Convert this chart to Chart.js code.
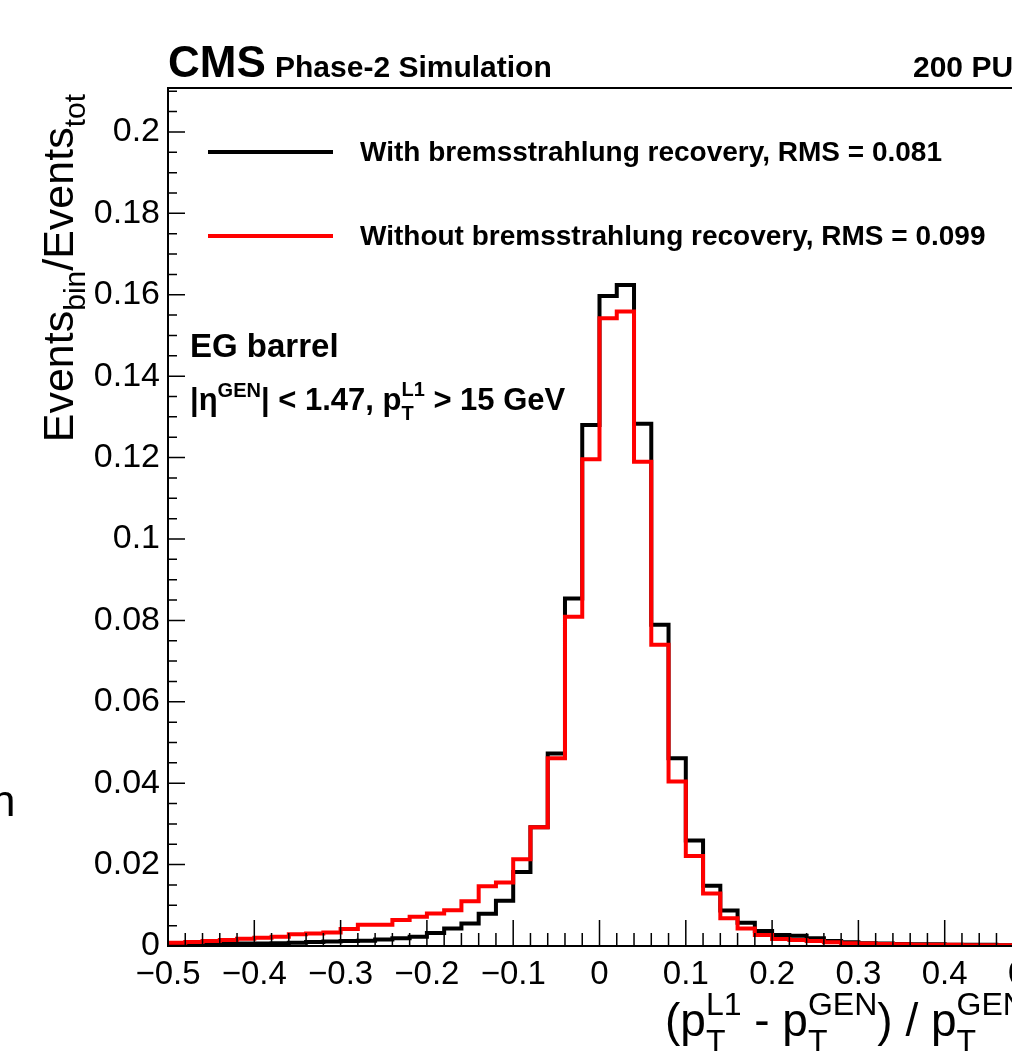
<!DOCTYPE html>
<html>
<head>
<meta charset="utf-8">
<script src="https://cdn.jsdelivr.net/npm/chart.js@4.4.1/dist/chart.umd.min.js"></script>
<style>
  html, body { margin: 0; padding: 0; background: #fff; overflow: hidden; }
  #wrap { position: relative; width: 1100px; height: 1051px; }
</style>
</head>
<body>
<div id="wrap"><canvas id="resolution" width="1100" height="1051"></canvas></div>
<script>
// bin edges of the histogram (0.02 wide bins)
const binEdges = [
  -0.50, -0.48, -0.46, -0.44, -0.42, -0.40, -0.38, -0.36, -0.34, -0.32,
  -0.30, -0.28, -0.26, -0.24, -0.22, -0.20, -0.18, -0.16, -0.14, -0.12,
  -0.10, -0.08, -0.06, -0.04, -0.02, 0.00, 0.02, 0.04, 0.06, 0.08,
  0.10, 0.12, 0.14, 0.16, 0.18, 0.20, 0.22, 0.24, 0.26, 0.28,
  0.30, 0.32, 0.34, 0.36, 0.38, 0.40, 0.42, 0.44, 0.46, 0.48, 0.50
];

// Events_bin / Events_tot, one value per bin
const withBrem = [
  0.0002, 0.0003, 0.0004, 0.0005, 0.0006, 0.0006, 0.0007, 0.0008, 0.0010, 0.0011,
  0.0012, 0.0013, 0.0016, 0.0019, 0.0023, 0.0032, 0.0043, 0.0055, 0.0079, 0.0111,
  0.0182, 0.0292, 0.0473, 0.0854, 0.1280, 0.1597, 0.1624, 0.1283, 0.0789, 0.0461,
  0.0259, 0.0148, 0.0087, 0.0057, 0.0037, 0.0027, 0.0025, 0.0019, 0.0012, 0.0009,
  0.0007, 0.0006, 0.0005, 0.0004, 0.0004, 0.0003, 0.0003, 0.0003, 0.0002, 0.0002
];
const withoutBrem = [
  0.0008, 0.0010, 0.0012, 0.0015, 0.0018, 0.0020, 0.0023, 0.0029, 0.0031, 0.0033,
  0.0042, 0.0052, 0.0052, 0.0064, 0.0072, 0.0080, 0.0088, 0.0110, 0.0147, 0.0156,
  0.0213, 0.0292, 0.0461, 0.0809, 0.1196, 0.1542, 0.1559, 0.1190, 0.0740, 0.0404,
  0.0221, 0.0129, 0.0068, 0.0043, 0.0027, 0.0017, 0.0015, 0.0012, 0.0009, 0.0007,
  0.0006, 0.0005, 0.0004, 0.0003, 0.0003, 0.0003, 0.0002, 0.0002, 0.0002, 0.0002
];

const xTicks = [-0.5, -0.4, -0.3, -0.2, -0.1, 0, 0.1, 0.2, 0.3, 0.4, 0.5];
const yTicks = [0, 0.02, 0.04, 0.06, 0.08, 0.1, 0.12, 0.14, 0.16, 0.18, 0.2];
const yMinorStep = 0.005;

const labelWith    = 'With bremsstrahlung recovery, RMS = 0.081';
const labelWithout = 'Without bremsstrahlung recovery, RMS = 0.099';

const FONT = '"Liberation Sans", Arial, Helvetica, sans-serif';

function toSteps(values) {
  const pts = values.map((v, i) => ({ x: binEdges[i], y: v }));
  pts.push({ x: binEdges[binEdges.length - 1], y: values[values.length - 1] });
  return pts;
}

function fmtX(v) {
  if (Math.abs(v) < 1e-9) return '0';
  return (v < 0 ? '\u2212' : '') + Math.abs(v).toFixed(1);
}
function fmtY(v) {
  if (Math.abs(v) < 1e-9) return '0';
  return String(+v.toFixed(2));
}

// draws text pieces; stacked pieces put a sup and a sub at the same x
function richText(ctx, x, y, parts, measureOnly) {
  let cx = x;
  parts.forEach(p => {
    ctx.font = p.font;
    if (p.sup !== undefined) {
      const w = Math.max(ctx.measureText(p.sup).width, ctx.measureText(p.sub).width);
      if (!measureOnly) {
        ctx.fillText(p.sup, cx, y - p.up);
        ctx.fillText(p.sub, cx, y + p.down);
      }
      cx += w;
    } else {
      if (!measureOnly) ctx.fillText(p.t, cx, y + (p.dy || 0));
      cx += ctx.measureText(p.t).width;
    }
  });
  return cx - x;
}

const rootDecor = {
  id: 'rootDecor',
  afterDraw(chart) {
    const ctx = chart.ctx;
    const a = chart.chartArea;
    const xs = chart.scales.x, ys = chart.scales.y;
    ctx.save();
    ctx.strokeStyle = '#000';
    ctx.fillStyle = '#000';

    // frame
    ctx.lineWidth = 2;
    ctx.strokeRect(a.left, a.top, a.right - a.left, a.bottom - a.top);

    // ticks inside the frame
    ctx.lineWidth = 1.5;
    ctx.beginPath();
    binEdges.forEach(v => {
      const px = xs.getPixelForValue(v);
      ctx.moveTo(px, a.bottom); ctx.lineTo(px, a.bottom - 13);
    });
    xTicks.forEach(v => {
      const px = xs.getPixelForValue(v);
      ctx.moveTo(px, a.bottom); ctx.lineTo(px, a.bottom - 26);
    });
    for (let v = 0; v <= ys.max + 1e-9; v += yMinorStep) {
      const py = ys.getPixelForValue(v);
      ctx.moveTo(a.left, py); ctx.lineTo(a.left + 9, py);
    }
    yTicks.forEach(v => {
      const py = ys.getPixelForValue(v);
      ctx.moveTo(a.left, py); ctx.lineTo(a.left + 17, py);
    });
    ctx.stroke();

    // header
    ctx.textBaseline = 'alphabetic';
    ctx.textAlign = 'left';
    ctx.font = 'bold 44px ' + FONT;
    ctx.fillText('CMS', 168, 77);
    ctx.font = 'bold 30px ' + FONT;
    ctx.fillText('Phase-2 Simulation', 275, 77);
    ctx.fillText('200 PU', 913, 77);

    // legend
    ctx.lineWidth = 4;
    ctx.strokeStyle = '#000';
    ctx.beginPath(); ctx.moveTo(208, 152); ctx.lineTo(333, 152); ctx.stroke();
    ctx.strokeStyle = '#ff0000';
    ctx.beginPath(); ctx.moveTo(208, 236); ctx.lineTo(333, 236); ctx.stroke();
    ctx.textBaseline = 'middle';
    ctx.font = 'bold 28px ' + FONT;
    ctx.fillText(labelWith, 360, 153);
    ctx.fillText(labelWithout, 360, 237);

    // selection text
    ctx.textBaseline = 'alphabetic';
    ctx.font = 'bold 33px ' + FONT;
    ctx.fillText('EG barrel', 190, 357);
    const bold = 'bold 31px ' + FONT, boldS = 'bold 20px ' + FONT;
    richText(ctx, 190, 410, [
      { t: '|\u03b7', font: bold },
      { t: 'GEN', font: boldS, dy: -13 },
      { t: '| < 1.47, p', font: bold },
      { sup: 'L1', sub: 'T', font: boldS, up: 14, down: 10 },
      { t: ' > 15 GeV', font: bold }
    ]);

    // x title
    const reg = '46px ' + FONT, regS = '32px ' + FONT;
    richText(ctx, 665, 1036, [
      { t: '(p', font: reg },
      { sup: 'L1', sub: 'T', font: regS, up: 21, down: 16 },
      { t: ' - p', font: reg },
      { sup: 'GEN', sub: 'T', font: regS, up: 21, down: 16 },
      { t: ') / p', font: reg },
      { sup: 'GEN', sub: 'T', font: regS, up: 21, down: 16 }
    ]);

    // y title, rotated, aligned to the top of the frame
    const yReg = '43px ' + FONT, ySm = '30px ' + FONT;
    const yParts = [
      { t: 'Events', font: yReg },
      { t: 'bin', font: ySm, dy: 12 },
      { t: '/Events', font: yReg },
      { t: 'tot', font: ySm, dy: 12 }
    ];
    const len = richText(ctx, 0, 0, yParts, true);
    ctx.save();
    ctx.translate(73, 94 + len);
    ctx.rotate(-Math.PI / 2);
    richText(ctx, 0, 0, yParts);
    ctx.restore();

    // fragment of a neighbouring label at the left edge
    ctx.font = '44px ' + FONT;
    ctx.fillText('n', -9, 816);

    ctx.restore();
  }
};

const chart = new Chart(document.getElementById('resolution'), {
  type: 'line',
  data: {
    datasets: [
      {
        label: labelWithout,
        data: toSteps(withoutBrem),
        borderColor: '#ff0000',
        borderWidth: 4,
        stepped: true,
        pointRadius: 0,
        fill: false,
        borderJoinStyle: 'miter',
        order: 0
      },
      {
        label: labelWith,
        data: toSteps(withBrem),
        borderColor: '#000000',
        borderWidth: 4,
        stepped: true,
        pointRadius: 0,
        fill: false,
        borderJoinStyle: 'miter',
        order: 1
      }
    ]
  },
  options: {
    responsive: false,
    animation: false,
    devicePixelRatio: 1,
    layout: { padding: { top: 88, right: 69, left: 0, bottom: 0 } },
    plugins: {
      legend: { display: false },
      tooltip: { enabled: false }
    },
    scales: {
      x: {
        type: 'linear',
        min: -0.5,
        max: 0.5,
        afterFit: s => { s.height = 105; },
        afterBuildTicks: s => { s.ticks = xTicks.map(v => ({ value: v })); },
        grid: { display: false, drawTicks: false },
        border: { display: false },
        ticks: {
          font: { family: FONT, size: 33 },
          color: '#000',
          padding: 9,
          maxRotation: 0,
          autoSkip: false,
          callback: v => fmtX(v)
        }
      },
      y: {
        type: 'linear',
        min: 0,
        max: 0.2108,
        afterFit: s => { s.width = 168; },
        afterBuildTicks: s => { s.ticks = yTicks.map(v => ({ value: v })); },
        grid: { display: false, drawTicks: false },
        border: { display: false },
        ticks: {
          font: { family: FONT, size: 34 },
          color: '#000',
          padding: 8,
          autoSkip: false,
          callback: v => fmtY(v)
        }
      }
    }
  },
  plugins: [rootDecor]
});
</script>
</body>
</html>
